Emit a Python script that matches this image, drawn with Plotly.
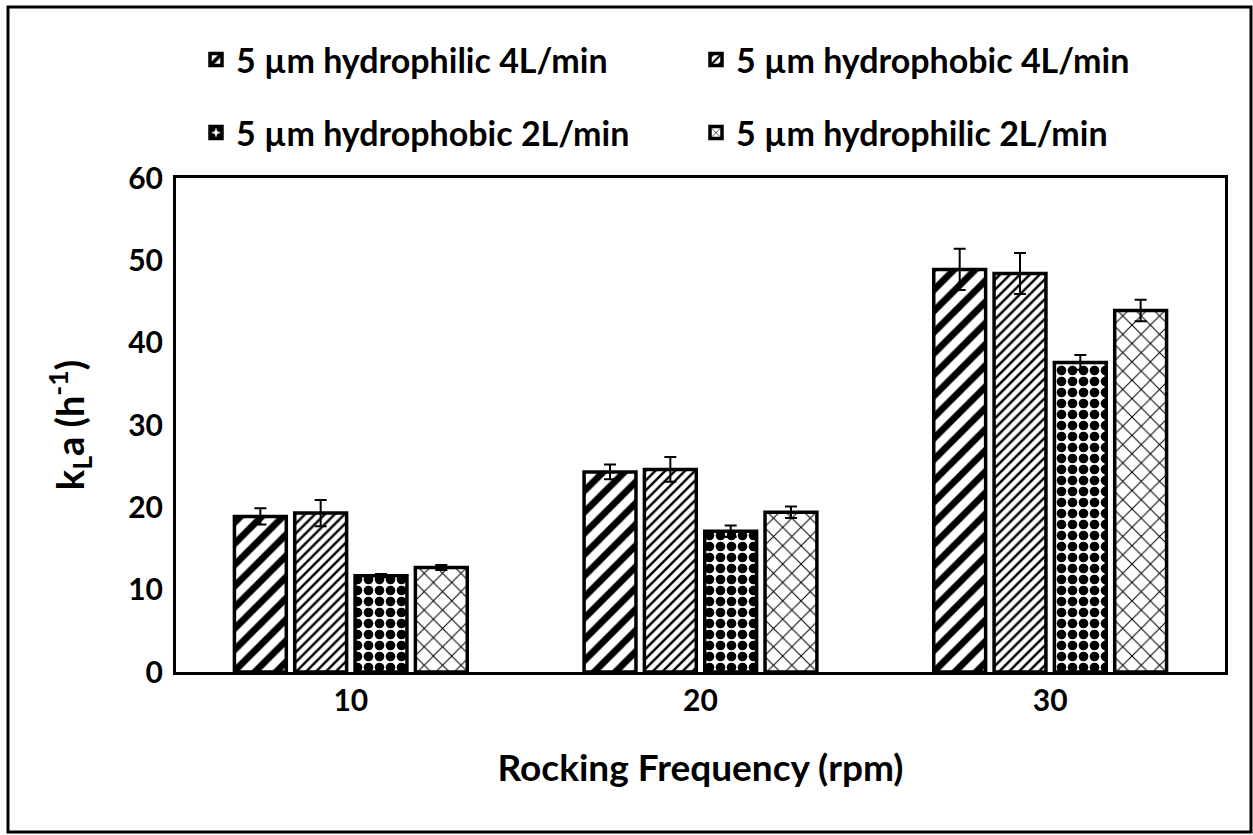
import plotly.graph_objects as go

categories = ["10", "20", "30"]
series_names = [
    "5 µm hydrophilic 4L/min",
    "5 µm hydrophobic 4L/min",
    "5 µm hydrophobic 2L/min",
    "5 µm hydrophilic 2L/min",
]
hydrophilic_4 = [18.9, 24.3, 48.9]
hydrophilic_4_err = [1.0, 0.9, 2.5]
hydrophobic_4 = [19.3, 24.6, 48.4]
hydrophobic_4_err = [1.6, 1.5, 2.5]
hydrophobic_2 = [11.7, 17.1, 37.6]
hydrophobic_2_err = [0.2, 0.7, 0.9]
hydrophilic_2 = [12.7, 19.4, 43.9]
hydrophilic_2_err = [0.3, 0.7, 1.3]

values = [hydrophilic_4, hydrophobic_4, hydrophobic_2, hydrophilic_2]
errors = [hydrophilic_4_err, hydrophobic_4_err, hydrophobic_2_err, hydrophilic_2_err]
patterns = [
    dict(shape="/", fgcolor="black", bgcolor="white", size=15, solidity=0.45, fgopacity=1),
    dict(shape="/", fgcolor="black", bgcolor="white", size=7, solidity=0.35, fgopacity=1),
    dict(shape=".", fgcolor="black", bgcolor="white", size=11, solidity=0.6, fgopacity=1),
    dict(shape="x", fgcolor="black", bgcolor="white", size=13, solidity=0.15, fgopacity=1),
]
legends = ["legend", "legend", "legend2", "legend2"]

FONT = "Lato"
fig = go.Figure()
for name, v, e, p, lg in zip(series_names, values, errors, patterns, legends):
    fig.add_trace(go.Bar(
        x=categories, y=v, name=name,
        marker=dict(color="white", line=dict(color="black", width=3.5), pattern=p),
        error_y=dict(type="data", array=e, color="black", thickness=2, width=6),
        legend=lg,
    ))

W, H = 1253, 835
L, R, T, B = 176, 28, 178, 163
pw, ph = W - L - R, H - T - B

def px_x(p):
    return (p - L) / pw

def px_y(p):
    return (H - B - p) / ph

legend_common = dict(
    orientation="h", xanchor="left", yanchor="middle",
    font=dict(family=FONT, size=34, color="black", weight="bold"),
    entrywidth=455, entrywidthmode="pixels", bgcolor="rgba(0,0,0,0)",
    traceorder="normal",
)

fig.update_layout(
    width=W, height=H,
    margin=dict(l=L, r=R, t=T, b=B),
    paper_bgcolor="white", plot_bgcolor="white",
    barmode="group", bargap=0.31, bargroupgap=0.14,
    font=dict(family=FONT, color="black"),
    legend=dict(x=px_x(196), y=px_y(60), **legend_common),
    legend2=dict(x=px_x(196), y=px_y(133), **legend_common),
    xaxis=dict(
        showline=True, linecolor="black", linewidth=3, mirror=True,
        ticks="", tickfont=dict(family=FONT, size=30, color="black", weight="bold"),
        title=dict(text="Rocking Frequency (rpm)", standoff=40,
                   font=dict(family=FONT, size=37, color="black", weight="bold")),
    ),
    yaxis=dict(
        range=[0, 60], dtick=10, showgrid=False, zeroline=False,
        showline=True, linecolor="black", linewidth=3, mirror=True,
        ticks="", ticklabelstandoff=4,
        tickfont=dict(family=FONT, size=30, color="black", weight="bold"),
        title=dict(text="k<sub>L</sub>a (h<sup>-1</sup>)", standoff=32,
                   font=dict(family=FONT, size=38, color="black", weight="bold")),
    ),
    shapes=[dict(
        type="rect", xref="paper", yref="paper",
        x0=px_x(8), x1=px_x(1251), y0=px_y(832), y1=px_y(7),
        line=dict(color="black", width=3), fillcolor="rgba(0,0,0,0)", layer="below",
    )],
)

fig.write_html("out.html")
